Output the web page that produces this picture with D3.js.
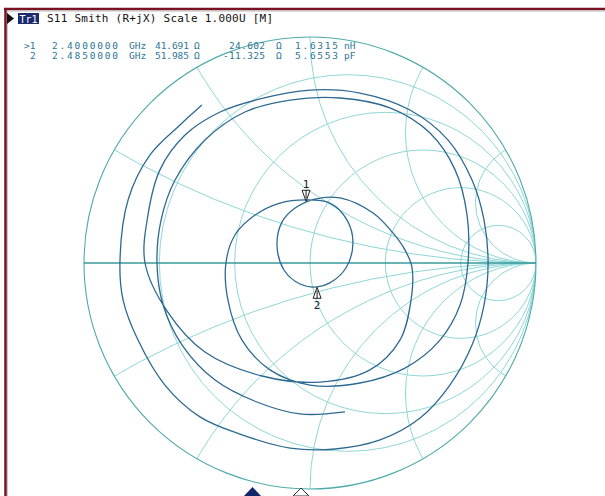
<!DOCTYPE html>
<html>
<head>
<meta charset="utf-8">
<title>S11 Smith</title>
<script src="https://d3js.org/d3.v7.min.js"></script>
<style>
  body { margin: 0; background: #fff; }
  text { font-family: "DejaVu Sans Mono", monospace; }
</style>
</head>
<body>
<svg id="mainsvg" width="605" height="496"></svg>
<script>
// ---------- data ----------
const titleText = "S11 Smith (R+jX) Scale 1.000U [M]";
// marker readout, one token per entry: [text, x, width]
const markerRow1 = [[">1", 24, 0], ["2.4000000", 52, 66], ["GHz", 129, 0], ["41.691", 155, 34], ["Ω", 194, 0],
  ["24.602", 229, 36], ["Ω", 276, 0], ["1.6315", 295, 43], ["nH", 344, 0]];
const markerRow2 = [["2", 30, 0], ["2.4850000", 52, 66], ["GHz", 129, 0], ["51.985", 155, 34], ["Ω", 194, 0],
  ["-11.325", 223, 42], ["Ω", 276, 0], ["5.6553", 295, 43], ["pF", 344, 0]];
// grid values (normalised): resistance circles and reactance arcs
const rGrid = [0.2, 0.5, 1, 2, 5];
const xGrid = [0.268, 0.577, 1, 1.732, 3.732];
// marker impedances (ohm), Z0 = 50
const markerNames = ["1", "2"];
const markerR = [41.691, 51.985];
const markerX = [24.602, -11.325];
// trace, reflection coefficient (re, im), start -> stop
const traceRe = [0.155, -0.044, -0.235, -0.420, -0.566, -0.650, -0.677, -0.659, -0.597, -0.465, -0.288, -0.088,
  0.133, 0.354, 0.531, 0.642, 0.695, 0.699, 0.664, 0.575, 0.420, 0.221, 0.0, -0.177, -0.301, -0.363,
  -0.372, -0.332, -0.243, -0.133, -0.018, 0.088, 0.164, 0.190, 0.159, 0.088, 0.031, -0.044, -0.115,
  -0.146, -0.124, -0.066, 0.022, 0.133, 0.279, 0.367, 0.420, 0.451, 0.447, 0.398, 0.265, 0.044,
  -0.212, -0.465, -0.633, -0.730, -0.717, -0.664, -0.553, -0.398, -0.221, 0.0, 0.221, 0.442, 0.611, 0.717, 0.770,
  0.788, 0.770, 0.717, 0.619, 0.487, 0.310, 0.111, -0.088, -0.310, -0.487, -0.642, -0.761, -0.827,
  -0.841, -0.805, -0.708, -0.575, -0.478];
const traceIm = [-0.659, -0.668, -0.615, -0.518, -0.363, -0.186, 0.0, 0.190, 0.367, 0.544, 0.668, 0.721,
  0.730, 0.686, 0.575, 0.412, 0.212, 0.0, -0.186, -0.341, -0.465, -0.531, -0.540, -0.473, -0.341, -0.164,
  0.0, 0.124, 0.212, 0.265, 0.279, 0.265, 0.190, 0.088, -0.022, -0.088, -0.106, -0.093, -0.031,
  0.080, 0.181, 0.243, 0.283, 0.288, 0.221, 0.133, 0.058, -0.018, -0.164, -0.341, -0.473, -0.527,
  -0.500, -0.394, -0.212, 0.0, 0.212, 0.412, 0.566, 0.668, 0.726, 0.765, 0.752, 0.677, 0.544, 0.367, 0.190,
  0.0, -0.186, -0.363, -0.540, -0.686, -0.783, -0.823, -0.819, -0.757, -0.681, -0.540, -0.341, -0.164,
  0.0, 0.279, 0.478, 0.611, 0.699];

// ---------- layout ----------
const svg = d3.select("#mainsvg");
const W = 605, H = 496;
const cx = 310, cy = 263, R = 226;
const xScale = d3.scaleLinear().domain([-1, 1]).range([cx - R, cx + R]);
const yScale = d3.scaleLinear().domain([-1, 1]).range([cy + R, cy - R]);
const k = R; // px per unit of gamma

const gridColor = "#8fd6d6";
const traceColor = "#2d6a92";

// frame
svg.append("rect").attr("x", 0).attr("y", 0).attr("width", W).attr("height", H).attr("fill", "#fff");
svg.append("line").attr("x1", 4).attr("x2", W).attr("y1", 9).attr("y2", 9).attr("stroke", "#7a1020").attr("stroke-width", 2.5);
svg.append("line").attr("x1", 5.5).attr("x2", 5.5).attr("y1", 8).attr("y2", H).attr("stroke", "#7a1020").attr("stroke-width", 2.5);
svg.append("line").attr("x1", 7).attr("x2", W).attr("y1", 11).attr("y2", 11).attr("stroke", "#b8b8b8").attr("stroke-width", 1);
svg.append("line").attr("x1", 7.5).attr("x2", 7.5).attr("y1", 11).attr("y2", H).attr("stroke", "#c8c8c8").attr("stroke-width", 1);

// clip to unit circle
svg.append("clipPath").attr("id", "unit").append("circle")
  .attr("cx", xScale(0)).attr("cy", yScale(0)).attr("r", k);

const grid = svg.append("g").attr("clip-path", "url(#unit)")
  .attr("fill", "none").attr("stroke", gridColor).attr("stroke-width", 1);

// resistance circles
grid.selectAll("circle.r").data(rGrid).join("circle")
  .attr("class", "r")
  .attr("cx", r => xScale(r / (r + 1)))
  .attr("cy", yScale(0))
  .attr("r", r => k / (r + 1));

// reactance arcs
const xs = xGrid.concat(xGrid.map(v => -v));
grid.selectAll("circle.x").data(xs).join("circle")
  .attr("class", "x")
  .attr("cx", xScale(1))
  .attr("cy", x => yScale(1 / x))
  .attr("r", x => k / Math.abs(x));

// outer circle and real axis
svg.append("circle").attr("cx", xScale(0)).attr("cy", yScale(0)).attr("r", k)
  .attr("fill", "none").attr("stroke", "#4faaaa").attr("stroke-width", 1.1);
svg.append("line").attr("x1", xScale(-1)).attr("x2", xScale(1))
  .attr("y1", yScale(0)).attr("y2", yScale(0))
  .attr("stroke", "#3a9898").attr("stroke-width", 1.6);

// trace
const pts = traceRe.map((re, i) => [re, traceIm[i]]);
const line = d3.line().x(d => xScale(d[0])).y(d => yScale(d[1])).curve(d3.curveCatmullRom.alpha(0.5));
svg.append("path").datum(pts).attr("d", line)
  .attr("fill", "none").attr("stroke", traceColor).attr("stroke-width", 1.3);

// markers
function gamma(rOhm, xOhm) {
  const zr = rOhm / 50, zi = xOhm / 50;
  const nr = zr - 1, ni = zi, dr = zr + 1, di = zi;
  const d = dr * dr + di * di;
  return [(nr * dr + ni * di) / d, (ni * dr - nr * di) / d];
}
markerNames.forEach((name, i) => {
  const g = gamma(markerR[i], markerX[i]);
  const px = xScale(g[0]), py = yScale(g[1]);
  const s = i === 0 ? -1 : 1; // 1 above (points down), 2 below (points up)
  const m = svg.append("g").attr("fill", "none").attr("stroke", "#222").attr("stroke-width", 1);
  m.append("path").attr("d", `M${px},${py} L${px - 4},${py + s * 11} L${px + 4},${py + s * 11} Z`).attr("fill", "#fff");
  m.append("line").attr("x1", px).attr("x2", px).attr("y1", py + s * 3).attr("y2", py + s * 11);
  svg.append("text").attr("x", px).attr("y", i === 0 ? py - 13 : py + 22)
    .attr("text-anchor", "middle").attr("font-size", 11).attr("fill", "#222").text(name);
});

// header
svg.append("path").attr("d", "M7,13 L14,18.5 L7,24 Z").attr("fill", "#111");
svg.append("rect").attr("x", 18).attr("y", 13).attr("width", 21).attr("height", 11).attr("fill", "#1c2b6e");
svg.append("text").attr("x", 28.5).attr("y", 22.5).attr("text-anchor", "middle")
  .attr("font-size", 10).attr("fill", "#fff").text("Tr1");
svg.append("text").attr("x", 47).attr("y", 22).attr("font-size", 11).attr("fill", "#111")
  .attr("textLength", 226).attr("lengthAdjust", "spacing").text(titleText);

[markerRow1, markerRow2].forEach((row, i) => {
  row.forEach(([t, x, w]) => {
    const el = svg.append("text").attr("x", x).attr("y", 49 + i * 9.5)
      .attr("font-family", "DejaVu Sans").attr("font-size", 9.5).attr("fill", "#2c7596").text(t);
    if (w > 0) el.attr("textLength", w).attr("lengthAdjust", "spacing");
  });
});

// bottom stimulus indicators
svg.append("path").attr("d", "M252.5,487 L261,496 L244,496 Z").attr("fill", "#12246a");
svg.append("path").attr("d", "M301,488 L309,496 L293,496 Z").attr("fill", "#fff").attr("stroke", "#333").attr("stroke-width", 1);
</script>
</body>
</html>
